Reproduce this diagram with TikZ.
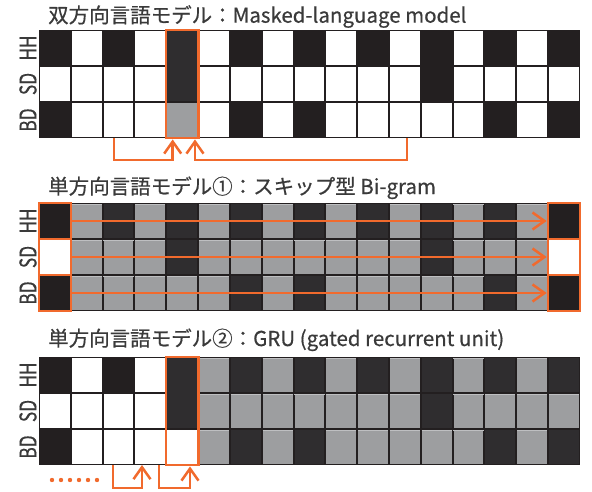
\documentclass[tikz,border=0pt]{standalone}
\usepackage{fontspec}
\setmainfont{Noto Sans CJK JP}
\newfontfamily\ttlfont{Noto Sans CJK JP}[FakeBold=0.5]
\usetikzlibrary{arrows.meta,fit}
\definecolor{ink}{RGB}{35,31,32}
\definecolor{dim}{RGB}{47,45,47}
\definecolor{fade}{RGB}{157,158,160}
\definecolor{hil}{RGB}{190,191,193}
\definecolor{org}{RGB}{241,106,45}
\definecolor{txt}{RGB}{58,58,58}
\begin{document}
\begin{tikzpicture}[x=1pt,y=-1pt,
  cell/.style={rectangle, inner sep=0pt, minimum width=29.8pt, minimum height=34pt, draw=none},
  obox/.style={draw=org, line width=2.5pt, inner sep=1pt, rectangle},
  oline/.style={draw=org, line width=2.5pt},
  oarrow/.style={oline, -{Straight Barb[length=12pt,width=17pt]}},
  lab/.style={text=txt, font=\ttlfont\fontsize{23}{23}\selectfont, rotate=90, inner sep=0pt},
  ttl/.style={text=txt, font=\ttlfont\fontsize{20.5}{20.5}\selectfont, anchor=base west, inner sep=0pt}
]
\useasboundingbox (0,0) rectangle (592,492);
\fill[white] (0,0) rectangle (592,492);
\def\pats{{1,0,1,0,1,0,1,0,1,0,1,0,1,0,1,0,1},{0,0,0,0,1,0,0,0,0,0,0,0,1,0,0,0,0},{1,0,0,0,0,0,1,0,1,0,0,0,0,0,1,0,1}}
\newcommand\lbl[1]{\scalebox{0.75}[1]{#1}}
% ---------- panel 1 ----------
\node[ttl] (t1) at (48,22.7) {双方向言語モデル：Masked-language model};
\fill[ink] (39,30) rectangle (580,138);
\foreach \pat [count=\r from 0] in \pats {
  \foreach \v [count=\c from 0] in \pat {
    \ifnum\v=1 \def\fc{ink}\else\def\fc{white}\fi
    \node[cell, fill=\fc] (a-\r-\c) at ({39+(\c+0.5)*31.82}, {30+(\r+0.5)*36}) {};
  }
}
\fill[dim] (a-0-4.north west) rectangle (a-1-4.south east);
\fill[fade] (a-2-4.north west) rectangle (a-2-4.south east);
\node[obox, fit=(a-0-4)(a-2-4)] (box1) {};
\node[lab] (la0) at (28,48) {\lbl{HH}};
\node[lab] (la1) at (28,84) {\lbl{SD}};
\node[lab] (la2) at (28,120) {\lbl{BD}};
\coordinate (s1a) at (114,138);
\coordinate (s1b) at (407,138);
\draw[oarrow] (s1a) -- ++(0,22) -| ([xshift=-9.5pt]box1.south);
\draw[oarrow] (s1b) -- ++(0,22) -| ([xshift=12.8pt]box1.south);
% ---------- panel 2 ----------
\node[ttl] (t2) at (48,194) {単方向言語モデル①：スキップ型 Bi-gram};
\fill[ink] (39,203) rectangle (580,311);
\foreach \pat [count=\r from 0] in \pats {
  \foreach \v [count=\c from 0] in \pat {
    \ifnum\c=0 \def\nrm{1}\else\ifnum\c=16 \def\nrm{1}\else\def\nrm{0}\fi\fi
    \ifnum\nrm=1
      \ifnum\v=1 \def\fc{ink}\else\def\fc{white}\fi
    \else
      \ifnum\v=1 \def\fc{dim}\else\def\fc{fade}\fi
    \fi
    \node[cell, fill=\fc] (b-\r-\c) at ({39+(\c+0.5)*31.82}, {203+(\r+0.5)*36}) {};
    \ifnum\nrm=0 \ifnum\v=0
      \draw[hil, line width=1pt] ([yshift=-0.5pt]b-\r-\c.north west) -- ([yshift=-0.5pt]b-\r-\c.north east);
    \fi\fi
  }
}
\node[lab] (lb0) at (28,221) {\lbl{HH}};
\node[lab] (lb1) at (28,257) {\lbl{SD}};
\node[lab] (lb2) at (28,293) {\lbl{BD}};
\foreach \r in {0,1,2} {
  \node[obox, fit=(b-\r-0)] (bl-\r) {};
  \node[obox, fit=(b-\r-16)] (br-\r) {};
}
\foreach \r in {0,1,2} {
  \draw[oarrow] (bl-\r.east) -- (br-\r.west);
}
% ---------- panel 3 ----------
\node[ttl] (t3) at (48,346) {単方向言語モデル②：GRU (gated recurrent unit)};
\fill[ink] (39,357) rectangle (580,465);
\foreach \pat [count=\r from 0] in \pats {
  \foreach \v [count=\c from 0] in \pat {
    \ifnum\c<5
      \ifnum\v=1 \def\fc{ink}\else\def\fc{white}\fi
    \else
      \ifnum\v=1 \def\fc{dim}\else\def\fc{fade}\fi
    \fi
    \node[cell, fill=\fc] (g-\r-\c) at ({39+(\c+0.5)*31.82}, {357+(\r+0.5)*36}) {};
    \ifnum\c>4 \ifnum\v=0
      \draw[hil, line width=1pt] ([yshift=-0.5pt]g-\r-\c.north west) -- ([yshift=-0.5pt]g-\r-\c.north east);
    \fi\fi
  }
}
\fill[dim] (g-0-4.north west) rectangle (g-1-4.south east);
\node[obox, fit=(g-0-4)(g-2-4)] (box3) {};
\node[lab] (lg0) at (28,375) {\lbl{HH}};
\node[lab] (lg1) at (28,411) {\lbl{SD}};
\node[lab] (lg2) at (28,447) {\lbl{BD}};
\foreach \i in {0,...,5} \fill[org] ({52+\i*9},480) circle (2.2);
\coordinate (s3a) at (113,465);
\coordinate (t3a) at (142,465);
\coordinate (s3b) at (159,465);
\draw[oarrow] (s3a) -- ++(0,23) -| (t3a);
\draw[oarrow] (s3b) -- ++(0,23) -| ([xshift=7.8pt]box3.south);
\end{tikzpicture}
\end{document}
